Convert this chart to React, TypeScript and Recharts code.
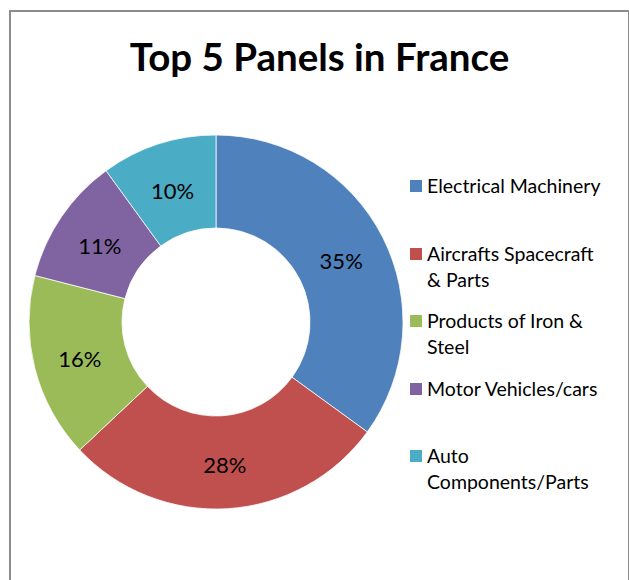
import { Pie, PieChart, Cell, Legend } from "recharts";

const categories = [
  "Electrical Machinery",
  "Aircrafts Spacecraft & Parts",
  "Products of Iron & Steel",
  "Motor Vehicles/cars",
  "Auto Components/Parts",
];
const legendLines = [
  ["Electrical Machinery"],
  ["Aircrafts Spacecraft", "& Parts"],
  ["Products of Iron &", "Steel"],
  ["Motor Vehicles/cars"],
  ["Auto", "Components/Parts"],
];
const shares = [35, 28, 16, 11, 10];
const colors = ["#4F81BD", "#C0504D", "#9BBB59", "#8064A2", "#4BACC6"];

const data = categories.map((name, i) => ({ name, value: shares[i] }));

const FONT = "Lato, 'Open Sans', sans-serif";
const RAD = Math.PI / 180;

function renderLabel({ cx, cy, midAngle, innerRadius, outerRadius, value }: any) {
  const r = (innerRadius + outerRadius) / 2;
  const x = cx + r * Math.cos(-midAngle * RAD);
  const y = cy + r * Math.sin(-midAngle * RAD) + 2;
  return (
    <text x={x} y={y} fill="#000" textAnchor="middle" dominantBaseline="central" fontSize={22} fontFamily={FONT}>
      {value}%
    </text>
  );
}

function LegendBox() {
  return (
    <div style={{ fontFamily: FONT, fontSize: 19.5, color: "#000" }}>
      {legendLines.map((lines, i) => (
        <div key={i} style={{ position: "absolute", top: i * 67.5, left: 0, display: "flex", width: 215 }}>
          <div style={{ width: 12, height: 12, background: colors[i], marginTop: 7, marginRight: 5, flex: "none" }} />
          <div style={{ lineHeight: "26px" }}>
            {lines.map((l, j) => (
              <div key={j} style={{ whiteSpace: "nowrap" }}>{l}</div>
            ))}
          </div>
        </div>
      ))}
    </div>
  );
}

export default function App() {
  return (
    <div style={{ position: "fixed", left: 9, top: 10, width: 617, height: 600, border: "2px solid #8c8c8c", background: "#fff" }}>
      <div style={{ position: "absolute", top: 22, left: 0, width: 617, textAlign: "center", fontFamily: FONT, fontWeight: 700, fontSize: 38.5, lineHeight: "44px", color: "#000" }}>
        Top 5 Panels in France
      </div>
      <div style={{ position: "absolute", left: 0, top: 0 }}>
        <PieChart width={617} height={600} margin={{ top: 0, right: 0, bottom: 0, left: 0 }}>
          <Pie
            data={data}
            dataKey="value"
            nameKey="name"
            cx={205}
            cy={310}
            innerRadius={94}
            outerRadius={187}
            startAngle={90}
            endAngle={-270}
            stroke="#ffffff"
            strokeWidth={0.75}
            label={renderLabel}
            labelLine={false}
            isAnimationActive={false}
          >
            {data.map((d, i) => (
              <Cell key={d.name} fill={colors[i]} />
            ))}
          </Pie>
          <Legend
            content={() => <LegendBox />}
            wrapperStyle={{ position: "absolute", left: 399, top: 161, width: 215, height: 340 }}
          />
        </PieChart>
      </div>
    </div>
  );
}
